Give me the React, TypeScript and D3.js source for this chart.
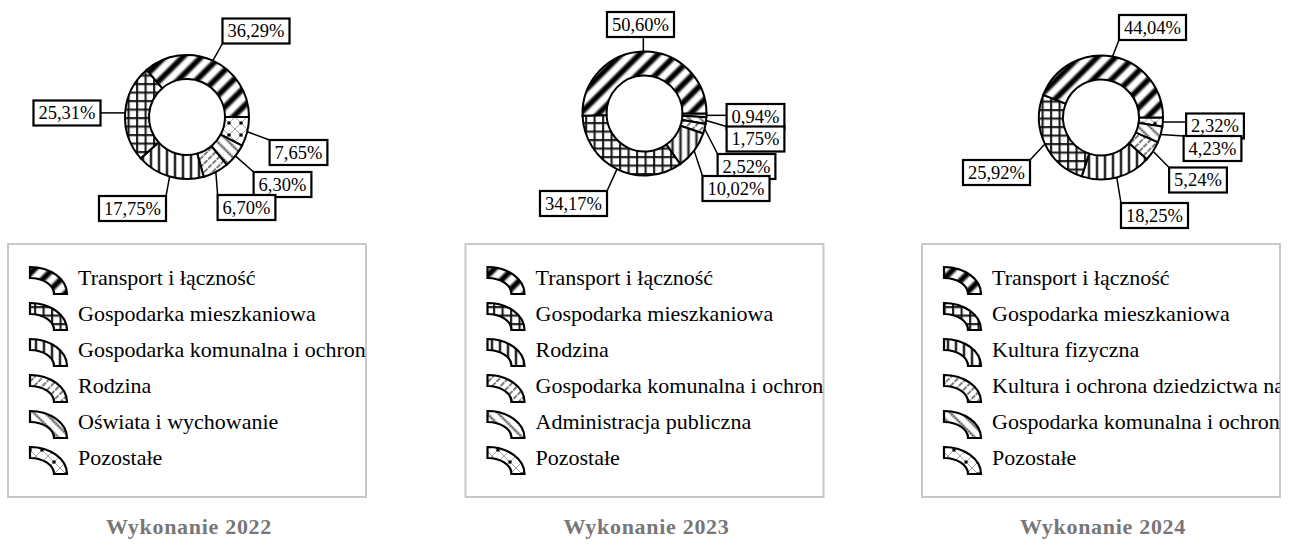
import React from 'react';
import * as d3 from 'd3';

const W = 1291;
const H = 549;

// dane (kolejność = kolejność w legendzie)
const categories2022 = [
  'Transport i łączność',
  'Gospodarka mieszkaniowa',
  'Gospodarka komunalna i ochrona środowiska',
  'Rodzina',
  'Oświata i wychowanie',
  'Pozostałe',
];
const values2022 = [36.29, 25.31, 17.75, 6.7, 6.3, 7.65];

const categories2023 = [
  'Transport i łączność',
  'Gospodarka mieszkaniowa',
  'Rodzina',
  'Gospodarka komunalna i ochrona środowiska',
  'Administracja publiczna',
  'Pozostałe',
];
const values2023 = [50.6, 34.17, 10.02, 2.52, 1.75, 0.94];

const categories2024 = [
  'Transport i łączność',
  'Gospodarka mieszkaniowa',
  'Kultura fizyczna',
  'Kultura i ochrona dziedzictwa narodowego',
  'Gospodarka komunalna i ochrona środowiska',
  'Pozostałe',
];
const values2024 = [44.04, 25.92, 18.25, 5.24, 4.23, 2.32];

const titles = ['Wykonanie 2022', 'Wykonanie 2023', 'Wykonanie 2024'];

// układ: środki paneli i położenie etykiet względem środka pierścienia
const panelX = [187, 644.5, 1101];
const panelY = [117, 113.5, 117.5];
const labelPos2022 = [[69, -86], [-120, -4], [-54.5, 91.5], [59.5, 90.5], [95.5, 67.5], [111.5, 35.5]];
const labelPos2023 = [[-4, -89], [-71, 90], [91.5, 75], [102, 53], [111, 25.5], [111, 3]];
const labelPos2024 = [[51.5, -90], [-104.5, 55], [53.5, 98], [97, 62.5], [111.5, 31], [114, 8.5]];

const SERIF = '"Liberation Serif", "Times New Roman", serif';
const R_OUT = 62;
const R_IN = 38;

let ctx: CanvasRenderingContext2D | null = null;
function textWidth(s: string, font: string) {
  if (!ctx) ctx = document.createElement('canvas').getContext('2d');
  if (!ctx) return s.length * 9;
  ctx.font = font;
  return ctx.measureText(s).width;
}

const fmt = (v: number) => v.toFixed(2).replace('.', ',') + '%';

const arc = d3.arc<d3.PieArcDatum<number>>().innerRadius(R_IN).outerRadius(R_OUT);

function Panel({ idx, cats, vals, labels }: { idx: number; cats: string[]; vals: number[]; labels: number[][] }) {
  const cx = panelX[idx];
  const cy = panelY[idx];
  // Excel: start na godz. 3, zgodnie z ruchem wskazówek, ostatnia pozycja legendy pierwsza
  const order = d3.range(vals.length).reverse();
  const pie = d3
    .pie<number>()
    .sort(null)
    .value((i) => vals[i])
    .startAngle(Math.PI / 2)
    .endAngle(Math.PI / 2 + 2 * Math.PI);
  const arcs = pie(order);

  const legX = cx - 179;
  const legY = 244;
  const clipId = `legclip${idx}`;
  const rowY = (i: number) => 278 + i * 36;

  return (
    <g>
      {arcs.map((a) => (
        <path
          key={a.data}
          transform={`translate(${cx},${cy})`}
          d={arc(a) || ''}
          fill={`url(#pat${a.data})`}
          stroke="#000"
          strokeWidth={2}
        />
      ))}
      {arcs.map((a) => {
        const i = a.data;
        const label = fmt(vals[i]);
        const tw = textWidth(label, `18.5px ${SERIF}`);
        const bw = tw + 10;
        const bh = 25;
        const bx = cx + labels[i][0] - bw / 2;
        const by = cy + labels[i][1] - bh / 2;
        const mid = (a.startAngle + a.endAngle) / 2;
        const sx = cx + R_OUT * Math.sin(mid);
        const sy = cy - R_OUT * Math.cos(mid);
        const ex = Math.max(bx, Math.min(bx + bw, sx));
        const ey = Math.max(by, Math.min(by + bh, sy));
        return (
          <g key={'l' + i}>
            <line x1={sx} y1={sy} x2={ex} y2={ey} stroke="#000" strokeWidth={1.5} />
            <rect x={bx} y={by} width={bw} height={bh} fill="#fff" stroke="#000" strokeWidth={2.2} />
            <text x={bx + bw / 2} y={by + bh / 2 + 6.3} textAnchor="middle" fontFamily={SERIF} fontSize={18.5}>
              {label}
            </text>
          </g>
        );
      })}

      <clipPath id={clipId}>
        <rect x={legX} y={legY} width={358} height={253} />
      </clipPath>
      <rect x={legX} y={legY} width={358} height={253} fill="#fff" stroke="#c8c8c8" strokeWidth={2} />
      <g clipPath={`url(#${clipId})`}>
        {cats.map((c, i) => {
          const y = rowY(i);
          const x0 = legX + 22;
          const yb = y + 16;
          const d = `M${x0},${yb - 27} A37,27 0 0 1 ${x0 + 37},${yb} L${x0 + 24},${yb} A24,16 0 0 0 ${x0},${yb - 16} Z`;
          return (
            <g key={c}>
              <path d={d} fill={`url(#pat${i})`} stroke="#000" strokeWidth={2.2} />
              <text x={legX + 70} y={y + 7} fontFamily={SERIF} fontSize={22} fill="#000">
                {c}
              </text>
            </g>
          );
        })}
      </g>

      <text
        x={cx + 2}
        y={534}
        textAnchor="middle"
        fontFamily={SERIF}
        fontWeight="bold"
        fontSize={22}
        letterSpacing={0.7}
        fill="#777"
      >
        {titles[idx]}
      </text>
    </g>
  );
}

export default function App() {
  return (
    <svg
      width={W}
      height={H}
      style={{ position: 'absolute', left: 0, top: 0, background: '#fff' }}
    >
      <defs>
        <linearGradient id="stripeGrad" x1="0" x2="1" y1="0" y2="0">
          <stop offset="0" stopColor="#fff" />
          <stop offset="0.18" stopColor="#fff" />
          <stop offset="0.4" stopColor="#000" />
          <stop offset="0.62" stopColor="#000" />
          <stop offset="0.84" stopColor="#fff" />
          <stop offset="1" stopColor="#fff" />
        </linearGradient>
        <pattern id="pat0" width={13} height={13} patternUnits="userSpaceOnUse" patternTransform="rotate(45)">
          <rect width={13} height={13} fill="url(#stripeGrad)" />
        </pattern>
        <pattern id="pat1" width={8.5} height={8.5} patternUnits="userSpaceOnUse">
          <rect width={8.5} height={8.5} fill="#fff" />
          <path d="M0,1 H8.5 M1,0 V8.5" stroke="#999" strokeWidth={3} />
          <path d="M0,1 H8.5 M1,0 V8.5" stroke="#000" strokeWidth={1.5} />
        </pattern>
        <pattern id="pat2" width={8} height={8} patternUnits="userSpaceOnUse">
          <rect width={8} height={8} fill="#fff" />
          <path d="M4,0 V8" stroke="#aaa" strokeWidth={3.4} />
          <path d="M4,0 V8" stroke="#000" strokeWidth={1.5} />
        </pattern>
        <pattern id="pat3" width={6} height={6} patternUnits="userSpaceOnUse" patternTransform="rotate(45)">
          <rect width={6} height={6} fill="#fff" />
          <path d="M3,0 V6" stroke="#666" strokeWidth={1.7} strokeDasharray="3 1" />
        </pattern>
        <pattern id="pat4" width={8} height={8} patternUnits="userSpaceOnUse" patternTransform="rotate(-45)">
          <rect width={8} height={8} fill="#fff" />
          <path d="M4,0 V8" stroke="#bbb" strokeWidth={3} />
          <path d="M4,0 V8" stroke="#222" strokeWidth={1.4} strokeDasharray="1.5 1.2" />
        </pattern>
        <pattern id="pat5" width={12} height={12} patternUnits="userSpaceOnUse">
          <rect width={12} height={12} fill="#fff" />
          <path d="M0,0 L12,12 M12,0 L0,12" stroke="#999" strokeWidth={0.9} />
          <circle cx={6} cy={6} r={1.8} fill="#000" />
        </pattern>
      </defs>
      <Panel idx={0} cats={categories2022} vals={values2022} labels={labelPos2022} />
      <Panel idx={1} cats={categories2023} vals={values2023} labels={labelPos2023} />
      <Panel idx={2} cats={categories2024} vals={values2024} labels={labelPos2024} />
    </svg>
  );
}
